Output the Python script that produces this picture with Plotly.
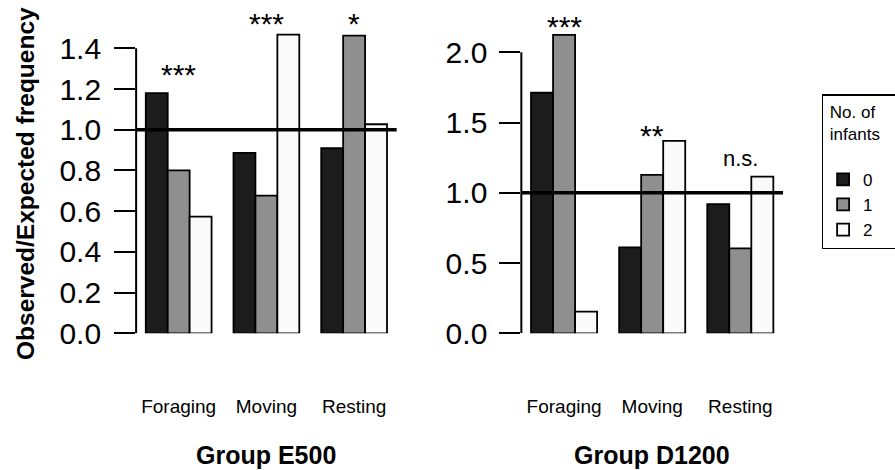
import plotly.graph_objects as go

# ---------------- data ----------------
categories = ["Foraging", "Moving", "Resting"]
infant_levels = ["0", "1", "2"]

e500_inf0 = [1.18, 0.886, 0.909]
e500_inf1 = [0.80, 0.676, 1.462]
e500_inf2 = [0.573, 1.467, 1.027]

d1200_inf0 = [1.712, 0.612, 0.920]
d1200_inf1 = [2.123, 1.127, 0.605]
d1200_inf2 = [0.154, 1.369, 1.115]

e500_sig = ["***", "***", "*"]
e500_sig_y = [1.29, 1.54, 1.54]
d1200_sig = ["***", "**", "n.s."]
d1200_sig_y = [2.21, 1.435, 1.24]

e500_ticks = [0.0, 0.2, 0.4, 0.6, 0.8, 1.0, 1.2, 1.4]
d1200_ticks = [0.0, 0.5, 1.0, 1.5, 2.0]

group_titles = ["Group E500", "Group D1200"]
y_title = "Observed/Expected frequency"
legend_title = "&nbsp;No. of<br>&nbsp;infants&nbsp;&nbsp;&nbsp;<br> "
expected_level = 1.0

fill_colors = ["#1c1c1c", "#8f8f8f", "#fafafa"]

FONT = "Liberation Sans, Arial, Helvetica, sans-serif"

fig = go.Figure()

panels = [
    dict(vals=[e500_inf0, e500_inf1, e500_inf2], xa="x", ya="y", sig=e500_sig, sig_y=e500_sig_y,
         ticks=e500_ticks, show=True),
    dict(vals=[d1200_inf0, d1200_inf1, d1200_inf2], xa="x2", ya="y2", sig=d1200_sig, sig_y=d1200_sig_y,
         ticks=d1200_ticks, show=False),
]

for p in panels:
    for lvl, vals, col in zip(infant_levels, p["vals"], fill_colors):
        fig.add_trace(go.Bar(
            x=categories, y=vals, name=lvl, legendgroup=lvl, showlegend=p["show"],
            marker=dict(color=col, line=dict(color="black", width=1.8)),
            xaxis=p["xa"], yaxis=p["ya"],
        ))

axis_common_x = dict(type="category", categoryorder="array", categoryarray=categories,
                     range=[-0.485, 2.485], showgrid=False, zeroline=False, showline=False,
                     ticks="", tickfont=dict(family=FONT, size=19, color="black"),
                     ticklabelstandoff=60, fixedrange=True)

def yaxis_cfg(ticks, top, domain, standoff):
    return dict(range=[0, top], domain=domain, showgrid=False, zeroline=False, showline=False,
                ticks="outside", ticklen=21, tickwidth=2, tickcolor="black",
                tickvals=ticks, ticktext=["%.1f" % t for t in ticks],
                tickfont=dict(family=FONT, size=30, color="black"), ticklabelstandoff=standoff,
                fixedrange=True)

ydom = [0.2908, 0.983]
fig.update_layout(
    width=895, height=470,
    margin=dict(l=0, r=0, t=0, b=0, autoexpand=False),
    paper_bgcolor="white", plot_bgcolor="white",
    barmode="group", bargap=0.25, bargroupgap=0,
    xaxis=dict(axis_common_x, domain=[0.1521, 0.4432], anchor="y"),
    xaxis2=dict(axis_common_x, domain=[0.5825, 0.8749], anchor="y2"),
    yaxis=dict(yaxis_cfg(e500_ticks, 1.598, ydom, 7), anchor="x"),
    yaxis2=dict(yaxis_cfg(d1200_ticks, 2.315, ydom, 6), anchor="x2"),
    legend=dict(x=0.918, y=0.8, xanchor="left", yanchor="top",
                bordercolor="black", borderwidth=1.5, bgcolor="white",
                font=dict(family=FONT, size=17, color="black"),
                title=dict(text=legend_title, font=dict(family=FONT, size=17, color="black")),
                traceorder="normal"),
    showlegend=True,
)

# axis lines, reference lines, significance labels, group titles
for i, p in enumerate(panels):
    xa, ya = p["xa"], p["ya"]
    fig.add_shape(type="line", xref=f"{xa} domain", yref=ya, x0=0, x1=0,
                  y0=min(p["ticks"]), y1=max(p["ticks"]), line=dict(color="black", width=2))
    fig.add_shape(type="line", xref=f"{xa} domain", yref=ya, x0=0, x1=1,
                  y0=expected_level, y1=expected_level, line=dict(color="black", width=3.5))
    for cat, lab, yv in zip(categories, p["sig"], p["sig_y"]):
        star = "*" in lab
        fig.add_annotation(x=cat, y=yv, xref=xa, yref=ya, text=lab, showarrow=False,
                           xanchor="center", yanchor="middle", yshift=-4 if star else 1,
                           font=dict(family=FONT, size=30 if star else 22, color="black"))
    fig.add_annotation(x=0.5, y=0.032, xref=f"{xa} domain", yref="paper", text=f"<b>{group_titles[i]}</b>",
                       showarrow=False, xanchor="center", yanchor="middle",
                       font=dict(family=FONT, size=25, color="black"))

fig.add_annotation(x=25 / 895, y=0.6085, xref="paper", yref="paper", text=f"<b>{y_title}</b>",
                   textangle=-90, showarrow=False, xanchor="center", yanchor="middle",
                   font=dict(family=FONT, size=24.5, color="black"))

fig.write_html("out.html", config={"displayModeBar": False},
               post_script="document.body.style.margin='0';")
